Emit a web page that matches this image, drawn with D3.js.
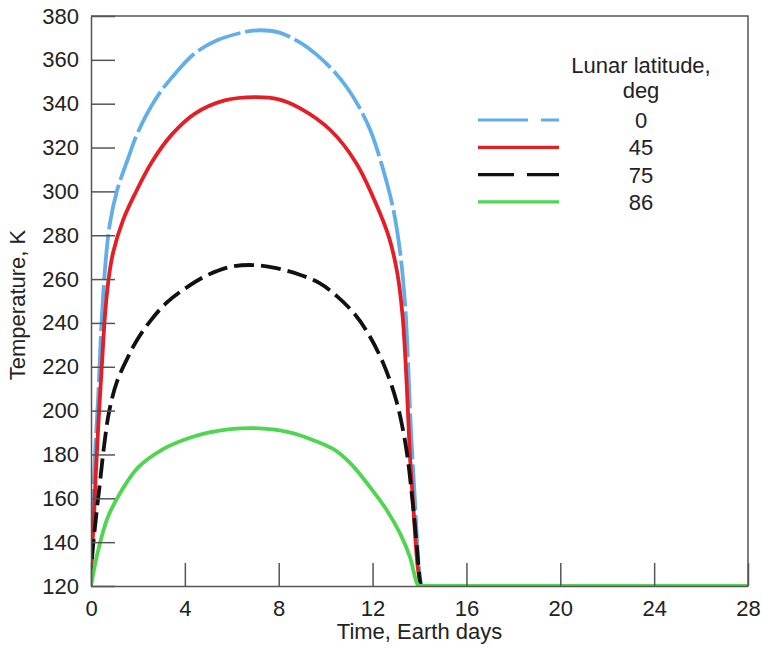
<!DOCTYPE html>
<html>
<head>
<meta charset="utf-8">
<script src="https://cdn.jsdelivr.net/npm/d3@7"></script>
<style>
    body { margin: 0; background: #fff; }
    text { font-family: "Liberation Sans", Arial, sans-serif; fill: #222; }
</style>
</head>
<body>
<div id="chart"></div>
<script>
// values: [time in Earth days, temperature in K]
const lat0 = [[0,120],[0.06,145],[0.15,175],[0.3,205],[0.45,240],[0.6,265],[0.8,285],[1.1,300],[1.58,315],[2.0,327],[2.73,341.7],[3.45,352],[4.43,363],[5.4,369],[6.56,372.7],[7.2,373.5],[8.0,372.5],[8.9,368],[9.6,362.5],[10.3,355.4],[10.9,347.5],[11.4,339],[11.9,328],[12.45,310],[12.9,291],[13.2,270],[13.4,246],[13.52,220],[13.64,190],[13.8,160],[13.96,130],[14.07,120],[28,120]];
const lat45 = [[0,120],[0.04,135],[0.12,150],[0.2,170],[0.32,195],[0.47,222],[0.6,244],[0.75,260],[0.94,272],[1.37,287],[1.88,299],[2.6,313.5],[3.45,326],[4.43,335.5],[5.7,341.5],[7.0,343],[8.0,342],[8.9,338],[10.2,328],[11.3,313],[12.2,293],[12.7,279],[13.05,263],[13.28,243],[13.45,213],[13.58,182],[13.72,159],[13.92,129],[14.05,120],[28,120]];
const lat75 = [[0,120],[0.04,132],[0.2,150],[0.38,167],[0.57,185],[0.78,200],[1.1,213],[1.58,224.5],[1.95,232],[2.5,240.5],[3.2,249],[4.05,256],[4.9,261.5],[5.9,265.5],[6.9,266.4],[7.9,265],[8.9,262],[9.76,258],[10.5,252],[11.2,244.5],[11.8,235.4],[12.45,221.7],[13.0,205],[13.3,191],[13.5,178],[13.7,159],[13.9,136.4],[14.0,124],[14.05,120],[28,120]];
const lat86 = [[0,120],[0.3,136],[0.72,151.5],[1.32,163.8],[2.0,174],[3.0,182],[4.0,186.8],[5.0,190],[6.9,192],[8.5,190],[9.6,186],[10.4,182],[11.1,175.5],[11.9,165],[12.6,154.7],[13.17,144],[13.6,133],[13.9,121],[14.0,120],[28,120]];

const latitudes = ["0", "45", "75", "86"];
const xTicks = [0, 4, 8, 12, 16, 20, 24, 28];
const yTicks = [120, 140, 160, 180, 200, 220, 240, 260, 280, 300, 320, 340, 360, 380];

const width = 762;
const height = 649;
const margin = {top: 16, right: 14, bottom: 63, left: 91};
const fontSize = "22px";

const series = [
    {name: latitudes[0], values: lat0, color: "#62aee9", dash: "46,5"},
    {name: latitudes[1], values: lat45, color: "#e41e26", dash: null},
    {name: latitudes[2], values: lat75, color: "#111111", dash: "20,7"},
    {name: latitudes[3], values: lat86, color: "#4fd650", dash: null}
];

const x = d3.scaleLinear().domain([0, 28]).range([margin.left, width - margin.right]);
const y = d3.scaleLinear().domain([120, 380]).range([height - margin.bottom, margin.top]);

const svg = d3.select("#chart")
    .append("svg")
    .attr("width", width)
    .attr("height", height);

svg.append("clipPath")
    .attr("id", "plot-clip")
    .append("rect")
    .attr("x", x(0)).attr("y", y(380) - 4)
    .attr("width", x(28) - x(0)).attr("height", y(120) - y(380) + 4);

// day part smooth, the flat night part straight
const dayLine = d3.line()
    .x(d => x(d[0]))
    .y(d => y(d[1]))
    .curve(d3.curveCatmullRom.alpha(0.5));

function curvePath(values) {
    const last = values[values.length - 1];
    return dayLine(values.slice(0, -1)) + `L${x(last[0])},${y(last[1])}`;
}

svg.append("g")
    .attr("clip-path", "url(#plot-clip)")
    .selectAll("path")
    .data(series)
    .join("path")
    .attr("d", d => curvePath(d.values))
    .attr("fill", "none")
    .attr("stroke", d => d.color)
    .attr("stroke-width", 3.8)
    .attr("stroke-dasharray", d => d.dash)
    .attr("stroke-linejoin", "round");

// axes, ticks pointing inward
const xAxis = svg.append("g")
    .attr("transform", `translate(0,${height - margin.bottom})`)
    .call(d3.axisBottom(x).tickValues(xTicks).tickSizeInner(-23).tickSizeOuter(0).tickPadding(10));

const yAxis = svg.append("g")
    .attr("transform", `translate(${margin.left},0)`)
    .call(d3.axisLeft(y).tickValues(yTicks).tickSizeInner(-24).tickSizeOuter(0).tickPadding(12));

[xAxis, yAxis].forEach(g => {
    g.select(".domain").attr("stroke", "#555").attr("stroke-width", 1.5);
    g.selectAll(".tick line").attr("stroke", "#555").attr("stroke-width", 1.5);
    g.selectAll(".tick text")
        .style("font-size", fontSize)
        .style("font-family", "'Liberation Sans', Arial, sans-serif")
        .attr("fill", "#222");
});
xAxis.selectAll(".tick text").attr("dy", "0.9em");

// top and right frame
svg.append("path")
    .attr("d", `M${x(0)},${y(380)}H${x(28)}V${y(120)}`)
    .attr("fill", "none")
    .attr("stroke", "#555")
    .attr("stroke-width", 1.5);

// axis titles
svg.append("text")
    .attr("x", (x(0) + x(28)) / 2)
    .attr("y", 639)
    .attr("text-anchor", "middle")
    .style("font-size", fontSize)
    .text("Time, Earth days");

svg.append("text")
    .attr("transform", `translate(25,${(y(120) + y(380)) / 2 + 4}) rotate(-90)`)
    .attr("text-anchor", "middle")
    .style("font-size", fontSize)
    .text("Temperature, K");

// legend
const legend = svg.append("g");
legend.append("text")
    .attr("x", 641).attr("y", 73)
    .attr("text-anchor", "middle")
    .style("font-size", fontSize)
    .text("Lunar latitude,");
legend.append("text")
    .attr("x", 641).attr("y", 98)
    .attr("text-anchor", "middle")
    .style("font-size", fontSize)
    .text("deg");

const item = legend.selectAll(".item")
    .data(series)
    .join("g")
    .attr("class", "item")
    .attr("transform", (d, i) => `translate(0,${120 + i * 27.3})`);

item.append("line")
    .attr("x1", 478).attr("x2", 559)
    .attr("stroke", d => d.color)
    .attr("stroke-width", 3.2)
    .attr("stroke-dasharray", (d, i) => i === 0 ? "50,13" : (i === 2 ? "36,13" : null));

item.append("text")
    .attr("x", 641).attr("y", 8)
    .attr("text-anchor", "middle")
    .style("font-size", fontSize)
    .text(d => d.name);
</script>
</body>
</html>
